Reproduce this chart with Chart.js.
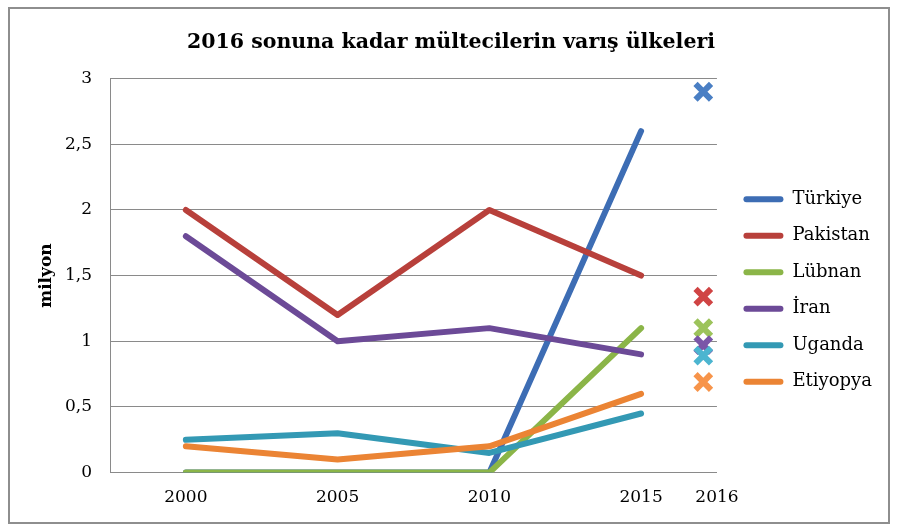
<!DOCTYPE html>
<html>
<head>
<meta charset="utf-8">
<script src="https://cdn.jsdelivr.net/npm/chart.js@4"></script>
<style>
  body { margin: 0; background: #fff; }
  #wrap { position: relative; width: 900px; height: 530px; }
  #frame { position: absolute; left: 8px; top: 7px; width: 878px; height: 513px; border: 2px solid #8e8e8e; pointer-events: none; }
</style>
</head>
<body>
<div id="wrap">
  <canvas id="chart" width="900" height="530"></canvas>
  <div id="frame"></div>
</div>
<script>
// values in millions
var years = ['2000', '2005', '2010', '2015'];
var lastYear = '2016';
var countries = ['Türkiye', 'Pakistan', 'Lübnan', 'İran', 'Uganda', 'Etiyopya'];
var turkiye = [0, 0, 0, 2.6];
var pakistan = [2.0, 1.2, 2.0, 1.5];
var lubnan = [0, 0, 0, 1.1];
var iran = [1.8, 1.0, 1.1, 0.9];
var uganda = [0.25, 0.3, 0.15, 0.45];
var etiyopya = [0.2, 0.1, 0.2, 0.6];
var end2016 = [2.9, 1.34, 1.1, 0.97, 0.89, 0.69];
var yTicks = [0, 0.5, 1, 1.5, 2, 2.5, 3];

var lineColors = ['#3d6db4', '#b8403b', '#8bb548', '#6c4a97', '#3399b4', '#eb8434'];
var crossColors = ['#4a7fc4', '#d04444', '#9cc35b', '#7a56a8', '#4cb5d0', '#f7944a'];
var series = [turkiye, pakistan, lubnan, iran, uganda, etiyopya];

// 2016 markers sit just left of the axis end, like in the original
var lastSlot = years.length - 0.5;
var crossSlot = lastSlot - 0.09;

var serif = "'DejaVu Serif', 'Liberation Serif', serif";

var datasets = [];
series.forEach(function(values, i) {
    datasets.push({
        label: countries[i],
        data: values.map(function(v, j) { return {x: j, y: v}; }),
        borderColor: lineColors[i],
        backgroundColor: lineColors[i],
        borderWidth: 6,
        borderCapStyle: 'round',
        borderJoinStyle: 'round',
        pointRadius: 0,
        tension: 0,
        order: 100 - i
    });
});
series.forEach(function(values, i) {
    datasets.push({
        label: countries[i] + ' ' + lastYear,
        data: [{x: crossSlot, y: end2016[i]}],
        showLine: false,
        pointStyle: 'crossRot',
        pointRadius: 11,
        pointBorderWidth: 6,
        pointBorderColor: crossColors[i],
        pointBackgroundColor: crossColors[i],
        borderColor: crossColors[i],
        order: 50 - i,
        isMarker: true
    });
});

var legendNudge = {
    id: 'legendNudge',
    afterLayout: function(chart) {
        chart.legend.left += 8;
        chart.legend.right += 8;
        chart.legend.top += 24;
        chart.legend.bottom += 24;
    }
};

new Chart(document.getElementById('chart'), {
    type: 'line',
    data: {datasets: datasets},
    plugins: [legendNudge],
    options: {
        responsive: false,
        devicePixelRatio: 1,
        animation: false,
        layout: {padding: {left: 28, right: 26, top: 10, bottom: 7}},
        plugins: {
            tooltip: {enabled: false},
            title: {
                display: true,
                text: '2016 sonuna kadar mültecilerin varış ülkeleri',
                color: '#000',
                font: {family: serif, size: 20.5, weight: 'bold'},
                padding: {top: 20, bottom: 24}
            },
            legend: {
                position: 'right',
                reverse: true,
                labels: {
                    color: '#000',
                    font: {family: serif, size: 18},
                    boxWidth: 40,
                    boxHeight: 6,
                    useBorderRadius: true,
                    borderRadius: 3,
                    padding: 18.5,
                    filter: function(item, data) { return !data.datasets[item.datasetIndex].isMarker; },
                    generateLabels: function(chart) {
                        return Chart.defaults.plugins.legend.labels.generateLabels(chart).map(function(item) {
                            item.lineWidth = 0;
                            return item;
                        });
                    }
                }
            }
        },
        scales: {
            x: {
                type: 'linear',
                min: -0.5,
                max: lastSlot,
                grid: {display: false, drawTicks: false},
                border: {color: '#8a8a8a'},
                afterBuildTicks: function(scale) {
                    scale.ticks = years.map(function(y, i) { return {value: i}; }).concat([{value: lastSlot}]);
                },
                ticks: {
                    color: '#000',
                    font: {family: serif, size: 17},
                    padding: 15,
                    maxRotation: 0,
                    autoSkip: false,
                    callback: function(v) { return v === lastSlot ? lastYear : years[v]; }
                }
            },
            y: {
                min: 0,
                max: 3,
                afterBuildTicks: function(scale) {
                    scale.ticks = yTicks.map(function(v) { return {value: v}; });
                },
                afterFit: function(scale) { scale.width = 82; },
                grid: {color: '#8a8a8a', lineWidth: 1, drawTicks: false},
                border: {color: '#8a8a8a'},
                ticks: {
                    color: '#000',
                    font: {family: serif, size: 17},
                    padding: 18,
                    callback: function(v) { return String(v).replace('.', ','); }
                },
                title: {
                    display: true,
                    text: 'milyon',
                    color: '#000',
                    font: {family: serif, size: 17, weight: 'bold'},
                    padding: {top: 8, bottom: 0}
                }
            }
        }
    }
});
</script>
</body>
</html>
